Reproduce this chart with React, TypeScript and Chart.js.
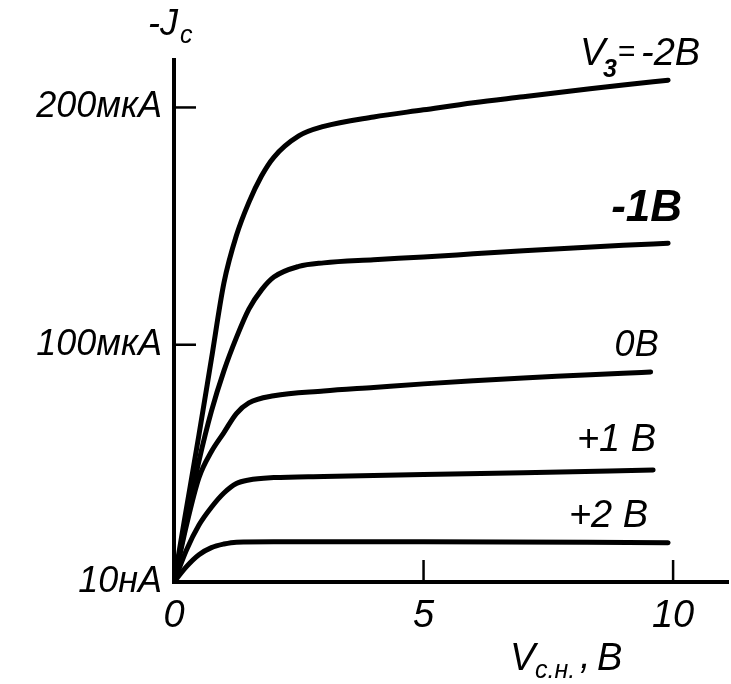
import React, { useEffect, useRef } from "react";
import { Chart, registerables } from "chart.js";

Chart.register(...registerables);

// Drain voltage Vс.н. (B) and drain current -Jc (мкА) for each gate voltage
const X_M2 = [0, 0.2, 0.5, 0.75, 1, 1.25, 1.5, 1.75, 2, 2.5, 3, 4, 5, 6, 7, 8, 9, 9.9];
const Y_M2 = [0, 25, 62, 94, 126, 146, 160, 171, 179, 188, 192, 196, 199, 202, 204.5, 207, 209.5, 211.5];

const X_M1 = [0, 0.25, 0.5, 0.75, 1, 1.25, 1.5, 1.75, 2, 2.5, 3, 4, 5, 6, 7, 8, 9, 9.9];
const Y_M1 = [0, 26, 51, 72, 89, 103, 115, 123, 128.5, 133, 134.5, 135.8, 137, 138.3, 139.6, 140.8, 141.9, 142.8];

const X_0 = [0, 0.25, 0.5, 0.75, 1, 1.25, 1.5, 2, 3, 4, 5, 6, 7, 8, 9, 9.55];
const Y_0 = [0, 24, 44, 55, 63, 71, 75.5, 78.5, 80.5, 82, 83.5, 84.8, 86, 87, 88, 88.5];

const X_P1 = [0, 0.25, 0.5, 0.75, 1, 1.25, 1.5, 2, 3, 5, 7, 9.6];
const Y_P1 = [0, 13.5, 24, 31.5, 37.5, 41.5, 43, 44, 44.5, 45.3, 46, 47.2];

const X_P2 = [0, 0.25, 0.5, 0.75, 1, 1.25, 2, 5, 9.9];
const Y_P2 = [0, 6.5, 11.5, 14.5, 16, 16.8, 17, 17, 16.5];

const SERIES_X = [X_M2, X_M1, X_0, X_P1, X_P2];
const SERIES_Y = [Y_M2, Y_M1, Y_0, Y_P1, Y_P2];
const SERIES_NAMES = ["-2B", "-1B", "0B", "+1 B", "+2 B"];

const X_TICKS = [0, 5, 10];
const X_TICK_LABELS = ["0", "5", "10"];
const Y_TICKS = [0, 100, 200];
const Y_TICK_LABELS = ["10нА", "100мкА", "200мкА"];

const FONT = "'Liberation Sans', 'DejaVu Sans', sans-serif";

const drawPlugin = {
  id: "fetLabels",
  afterDraw(chart: any) {
    const { ctx, scales } = chart;
    const xs = scales.x;
    const ys = scales.y;
    const left = chart.chartArea.left;
    const bottom = chart.chartArea.bottom;
    ctx.save();
    ctx.fillStyle = "#000";
    ctx.strokeStyle = "#000";

    // inner tick marks
    ctx.lineWidth = 2.5;
    [100, 200].forEach((v) => {
      const py = ys.getPixelForValue(v);
      ctx.beginPath();
      ctx.moveTo(left, py);
      ctx.lineTo(left + 22, py);
      ctx.stroke();
    });
    [5, 10].forEach((v) => {
      const px = xs.getPixelForValue(v);
      ctx.beginPath();
      ctx.moveTo(px, bottom);
      ctx.lineTo(px, bottom - 22);
      ctx.stroke();
    });

    const f = (size: number, weight = "normal") => `italic ${weight} ${size}px ${FONT}`;
    ctx.textBaseline = "alphabetic";

    // axis titles
    ctx.textAlign = "left";
    ctx.font = f(36);
    ctx.fillText("-J", 148, 35);
    ctx.font = f(25);
    ctx.fillText("c", 180, 43);

    ctx.font = f(38);
    ctx.fillText("V", 510, 670);
    ctx.font = f(25);
    ctx.fillText("с.н.", 535, 678);
    ctx.font = f(38);
    ctx.fillText(",", 580, 668);
    ctx.fillText("B", 597, 670);

    // curve labels (anchored to the end of each curve)
    const endPx = (i: number) => {
      const xsArr = SERIES_X[i];
      const ysArr = SERIES_Y[i];
      return {
        x: xs.getPixelForValue(xsArr[xsArr.length - 1]),
        y: ys.getPixelForValue(ysArr[ysArr.length - 1]),
      };
    };

    // -2B: "V3 = -2B"
    {
      const e = endPx(0);
      const R = e.x + 32;
      const B = e.y - 15;
      ctx.textAlign = "right";
      ctx.font = f(38);
      ctx.fillText("-2B", R, B);
      const w = ctx.measureText("-2B").width;
      ctx.font = f(30);
      ctx.fillText("=", R - w - 6, B - 4);
      ctx.textAlign = "left";
      ctx.font = f(25, "bold");
      ctx.fillText("3", 603, B + 12);
      ctx.font = f(38);
      ctx.fillText("V", 580, B);
    }
    ctx.textAlign = "right";
    {
      const e = endPx(1);
      ctx.font = f(44, "bold");
      ctx.fillText("-1B", e.x + 14, e.y - 22);
    }
    {
      const e = endPx(2);
      ctx.font = f(36);
      ctx.fillText("0B", e.x + 8, e.y - 16);
    }
    {
      const e = endPx(3);
      ctx.font = f(38);
      ctx.fillText("+1 B", e.x + 3, e.y - 19);
    }
    {
      const e = endPx(4);
      ctx.font = f(38);
      ctx.fillText("+2 B", e.x - 20, e.y - 16);
    }
    ctx.restore();
  },
};

export default function App() {
  const ref = useRef<HTMLCanvasElement | null>(null);
  useEffect(() => {
    document.body.style.margin = "0";
    const canvas = ref.current;
    if (!canvas) return;
    const datasets = SERIES_Y.map((ys, i) => ({
      label: SERIES_NAMES[i],
      data: ys.map((y, j) => ({ x: SERIES_X[i][j], y })),
      borderColor: "#000",
      borderWidth: 5,
      borderCapStyle: "round" as const,
      pointRadius: 0,
      cubicInterpolationMode: "monotone" as const,
      fill: false,
    }));
    const chart = new Chart(canvas, {
      type: "line",
      data: { datasets },
      plugins: [drawPlugin],
      options: {
        animation: false,
        responsive: false,
        maintainAspectRatio: false,
        layout: { padding: { top: 60, right: 3, left: 0, bottom: 0 } },
        plugins: { legend: { display: false }, tooltip: { enabled: false } },
        scales: {
          x: {
            type: "linear",
            min: 0,
            max: 11.1,
            grid: { display: false, drawTicks: false },
            border: { display: true, color: "#000", width: 4 },
            afterBuildTicks: (s: any) => {
              s.ticks = X_TICKS.map((v) => ({ value: v }));
            },
            afterFit: (s: any) => {
              s.height = 102;
            },
            ticks: {
              autoSkip: false,
              maxRotation: 0,
              padding: 12,
              color: "#000",
              font: { family: FONT, size: 38, style: "italic" },
              callback: (_v: any, i: number) => X_TICK_LABELS[i],
            },
          },
          y: {
            type: "linear",
            min: 0,
            max: 220,
            grid: { display: false, drawTicks: false },
            border: { display: true, color: "#000", width: 4 },
            afterBuildTicks: (s: any) => {
              s.ticks = Y_TICKS.map((v) => ({ value: v }));
            },
            afterFit: (s: any) => {
              s.width = 174;
            },
            ticks: {
              autoSkip: false,
              padding: 12,
              color: "#000",
              font: { family: FONT, size: 36, style: "italic" },
              callback: (_v: any, i: number) => Y_TICK_LABELS[i],
            },
          },
        },
      },
    });
    return () => chart.destroy();
  }, []);
  return (
    <div style={{ position: "absolute", left: 0, top: 0, width: 731, height: 684, background: "#fff" }}>
      <canvas ref={ref} width={731} height={684} />
    </div>
  );
}
